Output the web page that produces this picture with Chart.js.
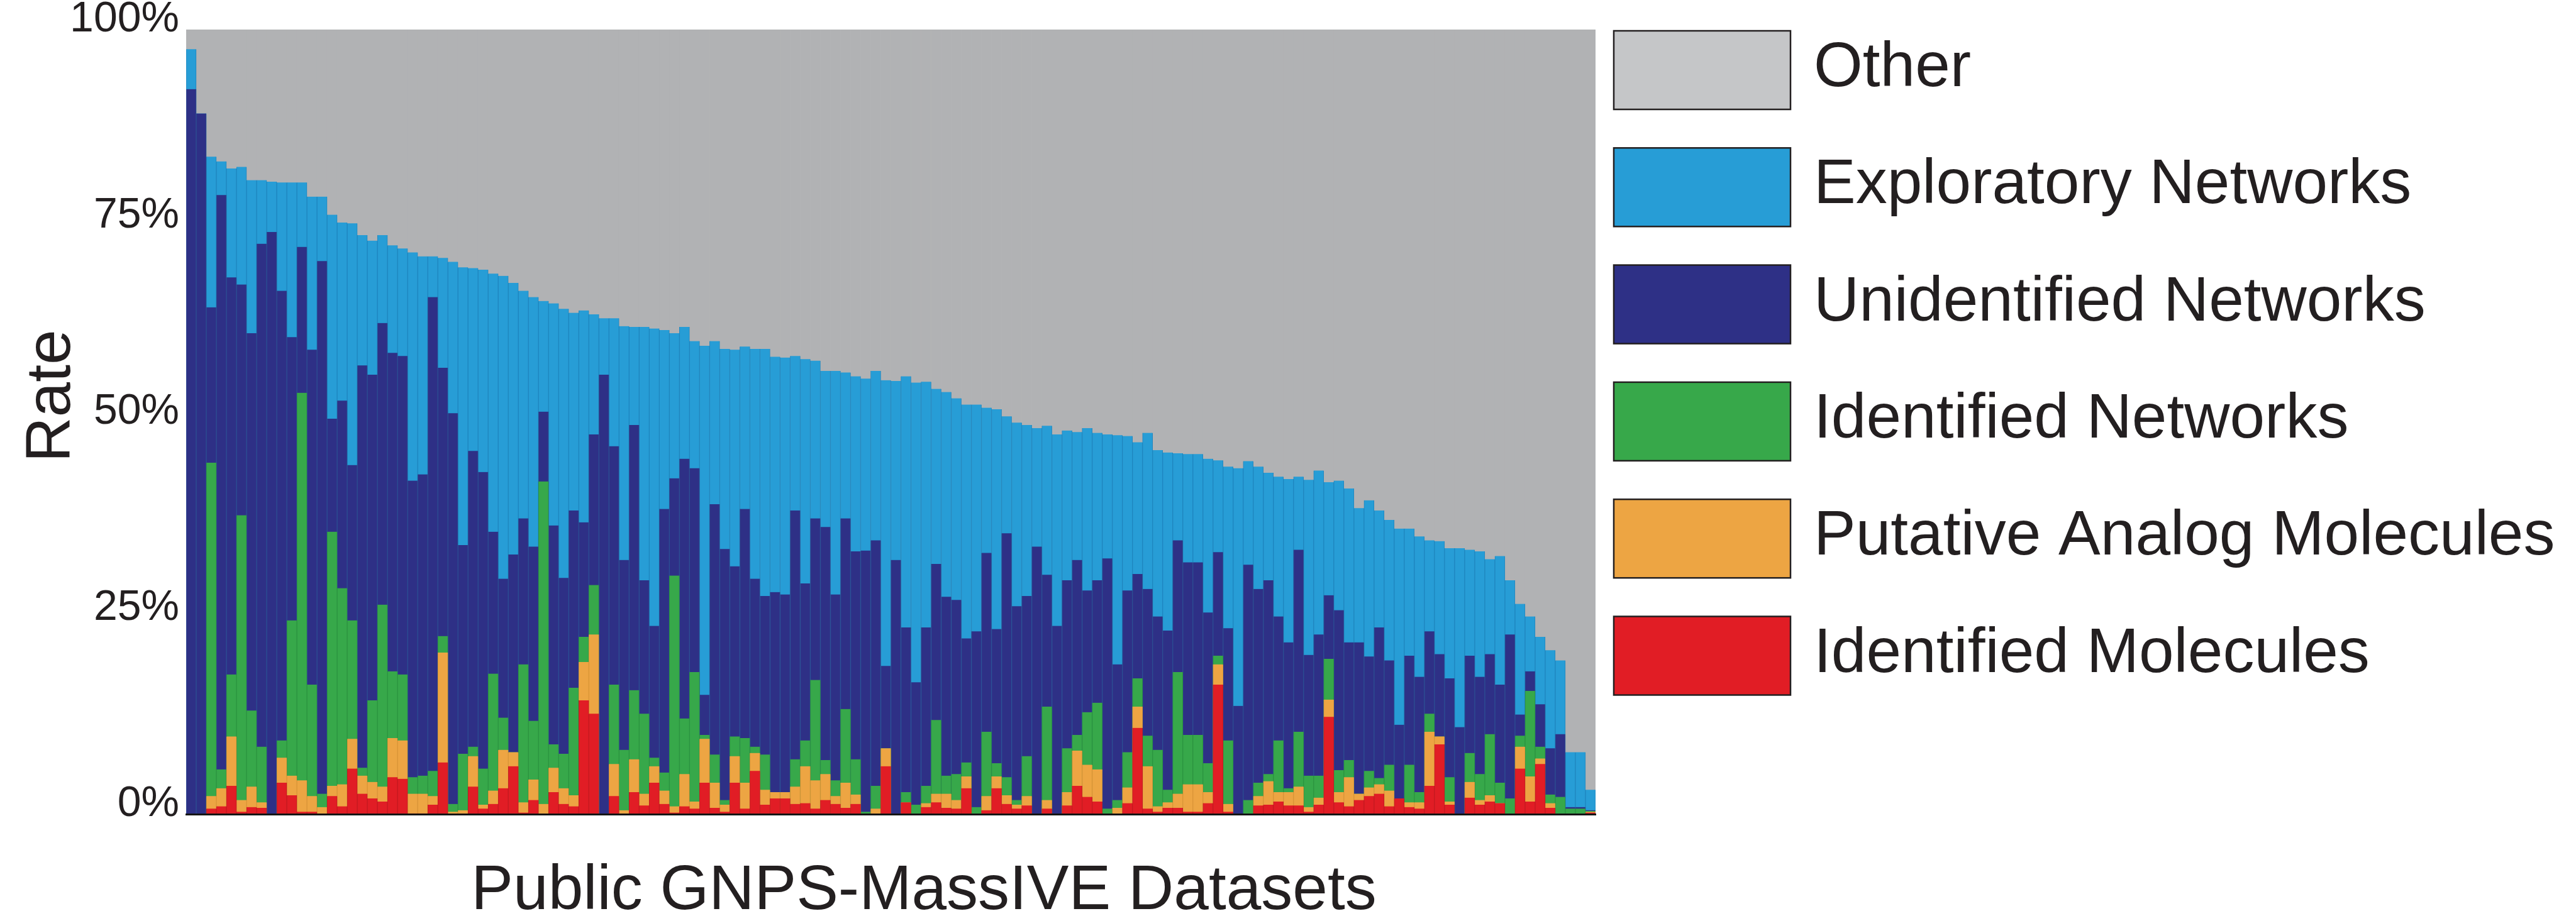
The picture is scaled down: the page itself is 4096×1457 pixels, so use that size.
<!DOCTYPE html>
<html>
<head>
<meta charset="utf-8">
<script src="https://cdn.jsdelivr.net/npm/chart.js@4.4.1/dist/chart.umd.min.js"></script>
<style>
  html, body { margin: 0; padding: 0; background: #fff; }
  #wrap { width: 4096px; height: 1457px; position: relative; }
</style>
</head>
<body>
<div id="wrap"><canvas id="rates"></canvas></div>
<script>
// cumulative tops (%) of each coloured band
// bands are drawn as overlapping bars from 0, so the visible slice = difference
const exploratoryTop = [97.5,89.3,83.8,83.2,82.3,82.5,80.8,80.8,80.6,80.5,
  80.5,80.5,78.7,78.7,76.4,75.4,75.3,73.8,73.1,73.8,
  72.5,72.1,71.6,71.1,71.1,70.9,70.4,69.7,69.6,69.4,
  68.9,68.6,67.7,66.7,65.9,65.4,65.1,64.4,63.9,64.2,
  63.7,63.2,63.2,62.2,62.1,62.1,61.9,61.7,61.3,62.1,
  60.3,59.7,60.3,59.3,59.2,59.6,59.3,59.3,58.3,58.2,
  58.4,58.0,57.8,56.5,56.5,56.3,55.8,55.5,56.5,55.3,
  55.2,55.8,55.0,55.1,54.2,53.8,53.0,52.2,52.2,51.8,
  51.6,50.7,49.9,49.6,49.2,49.5,48.4,48.9,48.7,49.2,
  48.6,48.4,48.3,48.2,47.4,48.6,46.4,46.1,46.0,45.9,
  45.9,45.3,45.1,44.3,44.1,45.0,44.3,43.5,43.0,42.7,
  43.0,42.6,43.8,42.3,42.5,41.5,39.0,40.0,38.7,37.5,
  36.4,36.4,35.4,34.9,34.8,33.9,33.9,33.7,33.5,32.5,
  32.9,29.8,26.8,25.2,22.6,20.9,19.6,7.9,7.9,3.1];

const unidentifiedTop = [92.4,89.3,64.6,78.9,68.4,67.5,61.3,72.7,74.2,66.7,
  60.8,72.3,59.2,70.5,50.4,52.7,44.5,57.2,56.0,62.6,
  58.8,58.4,42.5,43.3,65.9,56.9,51.1,34.3,46.3,43.6,
  36.0,30.0,33.1,37.7,34.1,51.3,36.8,30.1,38.7,37.2,
  48.4,56.0,46.9,32.4,49.6,29.8,24.0,38.9,42.8,45.3,
  44.1,15.2,39.5,33.8,31.6,38.9,30.0,27.8,28.3,28.0,
  38.7,29.4,37.7,36.6,28.0,37.7,33.5,33.6,34.9,18.9,
  32.4,23.8,16.8,23.8,31.9,27.7,27.3,22.4,23.3,33.3,
  23.6,35.8,26.5,27.8,34.1,30.5,24.0,29.8,32.4,28.5,
  29.8,32.6,19.1,28.5,30.6,28.7,25.2,23.4,34.9,32.1,
  32.1,25.7,33.4,23.7,13.8,31.8,28.7,29.8,25.2,21.9,
  33.7,20.3,22.9,27.9,26.0,21.9,21.9,20.1,23.8,19.6,
  11.4,20.2,17.5,23.3,20.4,17.3,11.1,20.2,17.5,20.4,
  16.5,22.9,12.7,18.2,14.0,8.4,10.2,0.9,0.9,0.5];

const idNetworksTop = [0,0,44.8,5.7,17.8,38.1,13.2,8.6,0,9.4,
  24.7,53.7,16.5,2.6,36.0,28.8,24.7,5.9,14.5,26.7,
  18.2,17.8,4.7,4.9,5.5,22.7,1.3,7.7,8.6,5.8,
  17.9,12.3,7.9,19.1,11.9,42.4,8.9,7.7,16.1,22.6,
  29.2,0,16.5,8.2,15.8,12.8,7.2,5.3,30.4,12.2,
  18.1,10.1,7.6,1.8,9.9,9.7,8.6,7.6,2.8,2.8,
  7.0,9.4,17.1,6.9,4.3,13.4,7.0,0.3,3.6,8.4,
  0,2.8,1.2,3.6,12.0,4.9,5.1,6.6,0.9,10.5,
  6.5,4.7,1.8,7.4,0,13.7,0,8.4,10.1,13.0,
  14.2,0.7,1.8,7.9,17.3,10.0,8.2,3.1,18.1,10.1,
  10.1,6.5,20.2,9.4,0,1.8,4.0,5.1,9.4,3.3,
  10.5,4.9,4.9,19.8,5.6,6.9,2.6,5.5,4.6,6.3,
  2.0,6.3,2.8,12.8,9.9,4.7,0,7.8,5.1,10.2,
  4.0,2.0,10.0,15.7,8.6,2.5,2.2,0.7,0.7,0.4];

const analogTop = [0,0,2.3,3.3,9.9,1.8,3.5,1.5,0,7.2,
  4.9,4.3,2.3,0.9,3.6,3.8,9.6,4.9,4.1,3.5,
  9.7,9.4,2.6,2.6,2.3,20.6,0.3,0.5,7.4,1.2,
  3.0,8.2,7.9,1.5,4.4,1.3,5.9,3.3,2.4,19.4,
  22.9,0,6.4,0.5,7.0,2.6,6.1,3.0,1.0,5.1,
  1.6,9.6,4.0,1.2,7.4,4.0,7.8,3.1,2.8,2.8,
  3.5,6.1,4.3,5.1,2.3,4.0,2.5,0,0.7,8.4,
  0,1.5,0,1.4,2.6,2.6,1.8,4.8,0,2.3,
  4.8,2.4,1.2,2.3,0,1.8,0,2.8,8.1,6.3,
  5.7,0,0.8,3.4,13.7,6.1,1.0,1.5,2.6,3.8,
  3.8,2.8,19.1,1.3,0,0,2.3,4.2,2.8,2.8,
  3.5,0.9,2.1,14.6,2.8,4.7,2.6,3.4,3.8,3.0,
  2.0,1.5,1.5,10.5,9.9,1.6,0,4.1,1.8,2.4,
  1.4,0,8.6,4.8,7.1,1.4,0,0,0,0.3];

const idMoleculesTop = [0,0,0.7,1.0,3.6,0.3,0.9,0.8,0,4.0,
  2.4,0.3,0.3,0,2.3,1.0,5.8,2.6,2.0,1.6,
  4.7,4.5,0.1,0.1,1.2,6.6,0,0,3.5,0.7,
  1.3,3.3,6.1,0.2,1.8,0,2.8,1.3,1.0,14.5,
  12.8,0,2.3,0,2.8,1.1,4.0,1.3,0.2,1.0,
  0.7,4.0,0.8,0.3,4.0,0.7,5.5,1.2,2.0,2.0,
  1.3,1.4,0.7,1.8,1.3,0.8,1.3,0,0,6.1,
  0,1.5,0,0.9,1.5,0.8,0.7,3.3,0,0.5,
  3.3,1.3,0.7,1.1,0,0.7,0,1.1,3.6,2.2,
  1.6,0,0,1.4,11.0,0.7,0.3,0.8,0.8,0.3,
  0.3,1.4,16.5,0.3,0,0,1.1,1.2,1.6,1.1,
  1.1,0.3,1.2,12.4,1.5,1.0,1.8,2.3,2.6,1.0,
  2.0,0.9,0.7,3.6,8.9,1.2,0,2.1,1.2,1.6,
  1.4,0,5.8,1.6,6.4,0.8,0,0,0,0.2];

// every dataset adds up to 100%, the grey "Other" fills the rest
const otherTop = exploratoryTop.map(() => 100);
const datasetIds = exploratoryTop.map((_, i) => 'Dataset ' + (i + 1));

const yTicks = [0, 25, 50, 75, 100];
const xTitle = 'Public GNPS-MassIVE Datasets';
const yTitle = 'Rate';

const FONT = '"Liberation Sans", Arial, Helvetica, sans-serif';
const TEXT = '#231f20';

// first dataset = top-most layer
const series = [
  { label: 'Identified Molecules',      data: idMoleculesTop,  color: '#e11d25', edge: '#c41a21' },
  { label: 'Putative Analog Molecules', data: analogTop,       color: '#eda543', edge: '#d99538' },
  { label: 'Identified Networks',       data: idNetworksTop,   color: '#37a84a', edge: '#2c9440' },
  { label: 'Unidentified Networks',     data: unidentifiedTop, color: '#2e3086', edge: '#2c4f93' },
  { label: 'Exploratory Networks',      data: exploratoryTop,  color: '#279dd6', edge: '#1f86bf' },
  { label: 'Other',                     data: otherTop,        color: '#b1b2b4', edge: '#b1b2b4', legendColor: '#c5c6c8', noEdge: true }
];

const sideText = {
  id: 'sideText',
  afterDraw(chart) {
    const ctx = chart.ctx;
    ctx.save();
    ctx.fillStyle = TEXT;
    ctx.font = '100px ' + FONT;
    ctx.textBaseline = 'alphabetic';

    ctx.textAlign = 'center';
    ctx.fillText(xTitle, 1469, 1446);

    ctx.save();
    ctx.translate(111, 630);
    ctx.rotate(-Math.PI / 2);
    ctx.fillText(yTitle, 0, 0);
    ctx.restore();

    // legend, Other on top
    ctx.textAlign = 'left';
    const items = chart.data.datasets.slice().reverse();
    items.forEach((ds, i) => {
      const bx = 2566, by = 49 + i * 186.3, bw = 281, bh = 125;
      ctx.fillStyle = ds.legendColor || ds.backgroundColor;
      ctx.fillRect(bx, by, bw, bh);
      ctx.lineWidth = 2.5;
      ctx.strokeStyle = TEXT;
      ctx.strokeRect(bx, by, bw, bh);
      ctx.fillStyle = TEXT;
      ctx.fillText(ds.label, 2884, by + bh / 2 + 25.5);
    });
    ctx.restore();
  }
};

new Chart(document.getElementById('rates'), {
  type: 'bar',
  data: {
    labels: datasetIds,
    datasets: series.map(s => ({
      label: s.label,
      data: s.data,
      backgroundColor: s.color,
      borderColor: s.edge,
      borderWidth: s.noEdge ? 0 : { left: 1, right: 1, top: 0, bottom: 0 },
      legendColor: s.legendColor
    }))
  },
  options: {
    responsive: true,
    maintainAspectRatio: false,
    animation: false,
    devicePixelRatio: 1,
    layout: { padding: { top: 47, right: 1559, bottom: 162, left: 0 } },
    datasets: { bar: { grouped: false, barPercentage: 1, categoryPercentage: 1 } },
    plugins: { legend: { display: false }, tooltip: { enabled: false } },
    scales: {
      x: {
        ticks: { display: false },
        grid: { display: false, drawTicks: false },
        border: { display: true, color: '#151515', width: 3, z: 1 },
        afterFit(s) { s.height = 0; s.paddingLeft = 0; s.paddingRight = 0; }
      },
      y: {
        min: 0, max: 100,
        afterBuildTicks(s) { s.ticks = yTicks.map(v => ({ value: v })); },
        ticks: {
          callback: v => v + '%',
          font: { size: 68, family: FONT },
          color: TEXT,
          padding: 11,
          labelOffset: -16
        },
        grid: { display: false, drawTicks: false },
        border: { display: false },
        afterFit(s) { s.width = 296; s.paddingTop = 0; s.paddingBottom = 0; }
      }
    }
  },
  plugins: [sideText]
});
</script>
</body>
</html>
